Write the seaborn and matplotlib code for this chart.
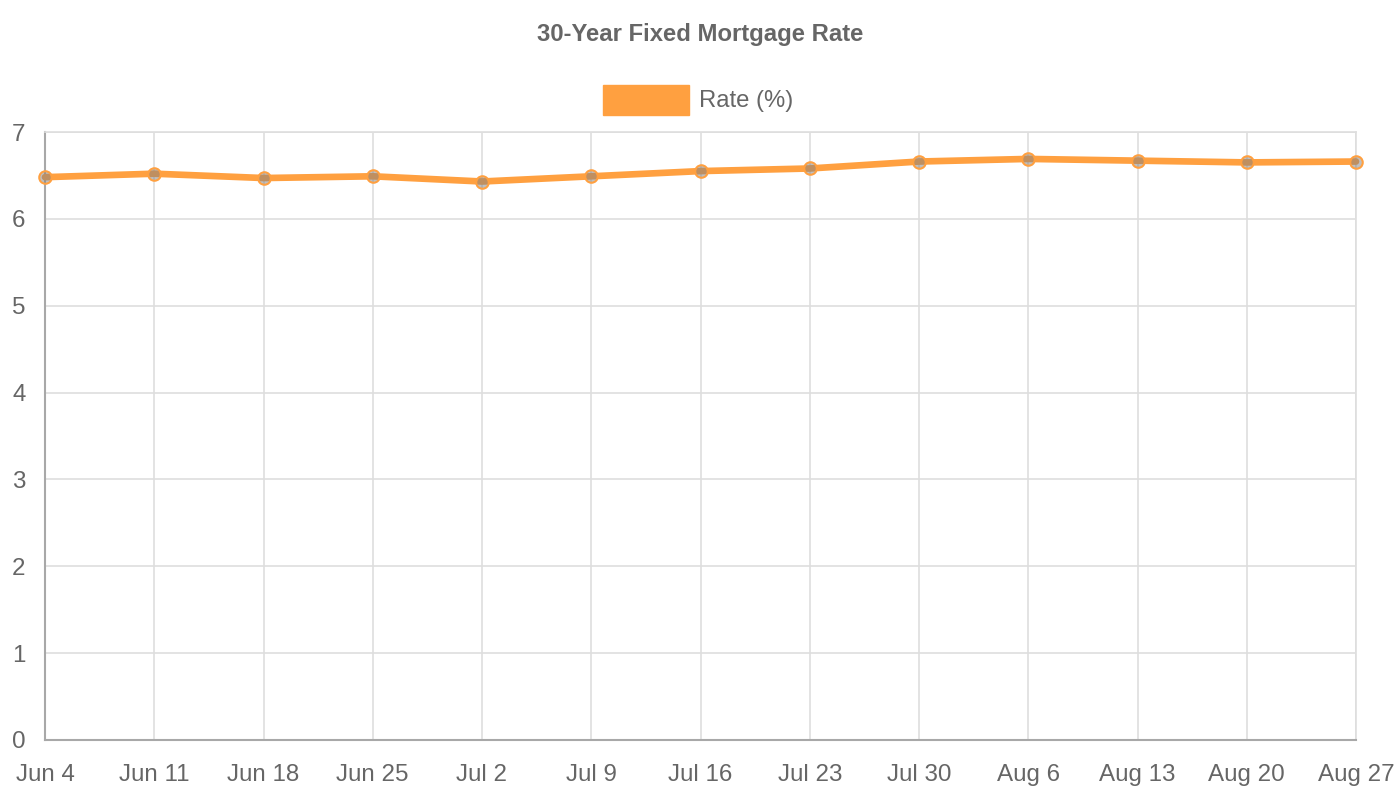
import matplotlib
matplotlib.use("Agg")
import matplotlib.pyplot as plt
from matplotlib.patches import Rectangle
import seaborn as sns
import pandas as pd

# Datos
weeks = ["Jun 4", "Jun 11", "Jun 18", "Jun 25", "Jul 2", "Jul 9", "Jul 16",
         "Jul 23", "Jul 30", "Aug 6", "Aug 13", "Aug 20", "Aug 27"]
rates = [6.48, 6.52, 6.47, 6.49, 6.43, 6.49, 6.55, 6.58, 6.66, 6.69, 6.67, 6.65, 6.66]
y_ticks = [0, 1, 2, 3, 4, 5, 6, 7]

ORANGE = "#FFA040"
GRID = "#dedede"
TEXT = "#666666"

sns.set_style("white")
plt.rcParams['font.family'] = ['Liberation Sans', 'DejaVu Sans']

df = pd.DataFrame({"semana": weeks, "tasa": rates, "pos": range(len(weeks))})

fig = plt.figure(figsize=(14, 8), dpi=100)
ax = fig.add_axes([45 / 1400, 60 / 800, (1356 - 45) / 1400, (740 - 132) / 800])

sns.lineplot(data=df, x="pos", y="tasa", ax=ax, color=ORANGE, linewidth=4.8,
             marker="o", markersize=9, markerfacecolor=(0.5, 0.5, 0.5, 0.5),
             markeredgecolor=ORANGE, markeredgewidth=1.5, clip_on=False, zorder=5)

ax.set_xlim(0, len(weeks) - 1)
ax.set_ylim(0, 7)
ax.set_xticks(df["pos"])
ax.set_xticklabels(weeks)
ax.set_yticks(y_ticks)
ax.set_xlabel("")
ax.set_ylabel("")

ax.grid(True, color=GRID, linewidth=1.2)
ax.set_axisbelow(True)
for side in ["top", "right"]:
    ax.spines[side].set_color(GRID)
    ax.spines[side].set_linewidth(1.2)
for side in ["left", "bottom"]:
    ax.spines[side].set_color("#a8a8a8")
    ax.spines[side].set_linewidth(1.5)

ax.tick_params(axis="both", width=1.2, color=GRID, labelsize=17.4, labelcolor=TEXT)
ax.tick_params(axis="x", length=11, pad=6)
ax.tick_params(axis="y", length=13, pad=1)

# Título y leyenda al estilo Chart.js
fig.text(0.5, 1 - 34 / 800, "30-Year Fixed Mortgage Rate", ha="center", va="center",
         fontsize=17.2, fontweight="bold", color=TEXT)
fig.add_artist(Rectangle((603 / 1400, 1 - 115 / 800), 86 / 1400, 30 / 800,
                         transform=fig.transFigure, facecolor=ORANGE, edgecolor=ORANGE))
fig.text(699 / 1400, 1 - 101 / 800, "Rate (%)", ha="left", va="center",
         fontsize=17.2, color=TEXT)

fig.savefig("out.png", dpi=100, facecolor="white")
